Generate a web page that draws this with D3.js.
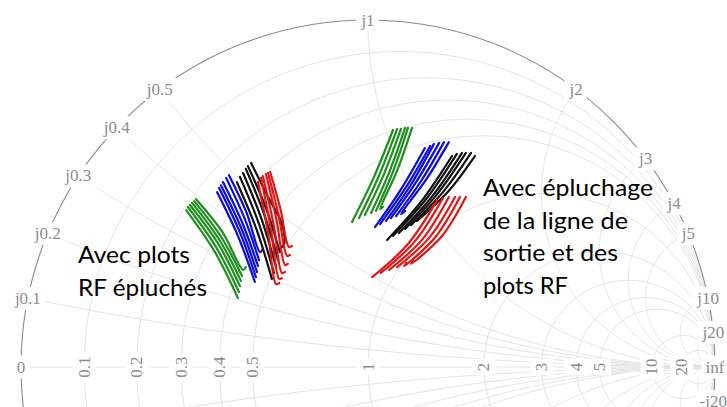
<!DOCTYPE html>
<html><head><meta charset="utf-8">
<script src="https://cdn.jsdelivr.net/npm/d3@7"></script>
<style>html,body{margin:0;padding:0;background:#fff;overflow:hidden}</style>
</head><body>
<svg id="chart" width="727" height="407"></svg>
<script>
// ---------- Data (reflection coefficient Γ = [re, im]) ----------
const realTicks = [0.1, 0.2, 0.3, 0.4, 0.5, 1, 2, 3, 4, 5, 10, 20];
const realTickLabels = ["0.1","0.2","0.3","0.4","0.5","1","2","3","4","5","10","20"];
const imagTicks = [0, 0.1, 0.2, 0.3, 0.4, 0.5, 1, 2, 3, 4, 5, 10, 20, Infinity, -20];
const imagTickLabels = ["0","j0.1","j0.2","j0.3","j0.4","j0.5","j1","j2","j3","j4","j5","j10","j20","inf","-j20"];
const gridReal = [0.1, 0.2, 0.3, 0.4, 0.5, 1, 2, 3, 4, 5, 10, 20];
const gridImag = [0.1, 0.2, 0.3, 0.4, 0.5, 1, 2, 3, 4, 5, 10, 20];

const leftGreen = [
 [[-0.524,0.452],[-0.441,0.331],[-0.375,0.199]],
 [[-0.519,0.461],[-0.437,0.344],[-0.372,0.216]],
 [[-0.513,0.467],[-0.432,0.356],[-0.369,0.233]],
 [[-0.507,0.473],[-0.428,0.366],[-0.366,0.248]],
 [[-0.501,0.478],[-0.424,0.376],[-0.363,0.262]],
 [[-0.496,0.484],[-0.419,0.388],[-0.360,0.280],[-0.352,0.288]]
];
const leftBlue = [
 [[-0.435,0.504],[-0.375,0.378],[-0.326,0.245]],
 [[-0.429,0.516],[-0.370,0.390],[-0.323,0.259]],
 [[-0.424,0.524],[-0.366,0.402],[-0.320,0.274]],
 [[-0.418,0.533],[-0.362,0.415],[-0.317,0.291]],
 [[-0.409,0.545],[-0.356,0.429],[-0.314,0.308]],
 [[-0.401,0.553],[-0.350,0.445],[-0.311,0.331],[-0.303,0.340]]
];
const leftBlack = [
 [[-0.378,0.533],[-0.321,0.396],[-0.277,0.254]],
 [[-0.369,0.548],[-0.314,0.412],[-0.271,0.271]],
 [[-0.360,0.559],[-0.307,0.427],[-0.265,0.288]],
 [[-0.352,0.571],[-0.300,0.442],[-0.259,0.308]],
 [[-0.346,0.579],[-0.294,0.458],[-0.254,0.331]],
 [[-0.337,0.588],[-0.288,0.490],[-0.248,0.412],[-0.242,0.354],[-0.251,0.343]]
];
const leftRed = [
 [[-0.317,0.533],[-0.288,0.386],[-0.265,0.239],[-0.256,0.242]],
 [[-0.308,0.545],[-0.280,0.399],[-0.256,0.254],[-0.248,0.256]],
 [[-0.303,0.550],[-0.272,0.411],[-0.248,0.271],[-0.239,0.274]],
 [[-0.294,0.556],[-0.264,0.425],[-0.239,0.294],[-0.231,0.297]],
 [[-0.288,0.559],[-0.258,0.439],[-0.233,0.320],[-0.225,0.323]],
 [[-0.282,0.562],[-0.252,0.454],[-0.228,0.346],[-0.219,0.349]]
];
const rightGreen = [
 [[-0.046,0.418],[0.016,0.545],[0.072,0.683]],
 [[-0.026,0.429],[0.032,0.552],[0.084,0.686]],
 [[-0.009,0.438],[0.046,0.556],[0.095,0.686]],
 [[0.009,0.444],[0.061,0.561],[0.107,0.689]],
 [[0.023,0.450],[0.072,0.563],[0.115,0.689]],
 [[0.043,0.461],[0.035,0.455],[0.084,0.566],[0.127,0.689]]
];
const rightBlue = [
 [[0.020,0.403],[0.095,0.512],[0.164,0.631]],
 [[0.035,0.412],[0.110,0.519],[0.179,0.637]],
 [[0.052,0.421],[0.124,0.526],[0.190,0.643]],
 [[0.066,0.429],[0.138,0.532],[0.205,0.646]],
 [[0.081,0.435],[0.153,0.536],[0.219,0.648]],
 [[0.107,0.450],[0.095,0.441],[0.167,0.539],[0.233,0.648]]
];
const rightBlack = [
 [[0.055,0.366],[0.154,0.478],[0.242,0.608]],
 [[0.072,0.378],[0.170,0.487],[0.256,0.614]],
 [[0.089,0.386],[0.186,0.493],[0.271,0.617]],
 [[0.107,0.398],[0.200,0.499],[0.282,0.617]],
 [[0.124,0.409],[0.216,0.504],[0.297,0.617]],
 [[0.141,0.421],[0.231,0.506],[0.308,0.608]]
];
const rightRed = [
 [[0.012,0.259],[0.114,0.353],[0.199,0.481]],
 [[0.037,0.271],[0.135,0.362],[0.216,0.487]],
 [[0.061,0.280],[0.156,0.367],[0.233,0.490]],
 [[0.084,0.288],[0.176,0.372],[0.251,0.490]],
 [[0.110,0.300],[0.104,0.291],[0.193,0.373],[0.265,0.490]],
 [[0.130,0.305],[0.124,0.297],[0.212,0.376],[0.282,0.490]]
];
const seriesColors = ["#1e8f1e", "#0a0ae6", "#111111", "#e31515"];
const annotLeft = ["Avec plots", "RF épluchés"];
const annotRight = ["Avec épluchage", "de la ligne de", "sortie et des", "plots RF"];

// ---------- Layout ----------
const W = 727, H = 407, CX = 368, CY = 367, R = 347;
const svg = d3.select("#chart");
svg.append("rect").attr("width", W).attr("height", H).attr("fill", "#fff");

const x = d3.scaleLinear().domain([-1, 1]).range([CX - R, CX + R]);
const y = d3.scaleLinear().domain([-1, 1]).range([CY + R, CY - R]);
const rad = v => x(v) - x(0);

svg.append("defs").append("clipPath").attr("id", "clipU")
  .append("circle").attr("cx", x(0)).attr("cy", y(0)).attr("r", rad(1));

const grid = svg.append("g").attr("clip-path", "url(#clipU)")
  .attr("fill", "none").attr("stroke", "#e4e4e4").attr("stroke-width", 1);

// resistance circles
grid.selectAll("circle.r").data(gridReal).join("circle")
  .attr("cx", r => x(r / (1 + r))).attr("cy", y(0)).attr("r", r => rad(1 / (1 + r)));
// real axis
grid.append("line").attr("x1", x(-1)).attr("x2", x(1)).attr("y1", y(0)).attr("y2", y(0));
// reactance arcs
const arcLine = d3.line().x(d => x(d[0])).y(d => y(d[1]));
function reactArc(xv) {
  const s = Math.sign(xv), a = Math.abs(xv);
  const c = 1 / a;
  const ex = -2 / (a * a + 1), ey = (a * a - 1) / (a * (a * a + 1));
  let phiEnd = Math.atan2(ey, ex);
  if (phiEnd > 0) phiEnd -= 2 * Math.PI;
  const pts = d3.range(0, 201).map(i => {
    const p = -Math.PI / 2 + (phiEnd + Math.PI / 2) * i / 200;
    return [1 + c * Math.cos(p), s * (c + c * Math.sin(p))];
  });
  return arcLine(pts);
}
gridImag.forEach(v => {
  grid.append("path").attr("d", reactArc(v));
  grid.append("path").attr("d", reactArc(-v));
});

// outer circle
svg.append("circle").attr("cx", x(0)).attr("cy", y(0)).attr("r", rad(1))
  .attr("fill", "none").attr("stroke", "#8a8a8a").attr("stroke-width", 1.1);

// ---------- tick labels ----------
const labG = svg.append("g").attr("font-family", "'Liberation Serif', 'Times New Roman', serif")
  .attr("font-size", 17).attr("fill", "#8c8c8c");

function addLabel(px, py, txt, rot) {
  const g = labG.append("g").attr("transform", `translate(${px},${py}) rotate(${rot})`);
  const bg = g.append("rect").attr("fill", "#fff");
  const t = g.append("text").attr("text-anchor", "middle").attr("dominant-baseline", "central").text(txt);
  const b = t.node().getBBox();
  bg.attr("x", b.x - 4).attr("y", b.y - 2).attr("width", b.width + 8).attr("height", b.height + 4);
}
imagTicks.forEach((v, i) => {
  let gx, gy;
  if (v === Infinity) { gx = 1; gy = 0; }
  else { gx = (v * v - 1) / (v * v + 1); gy = 2 * v / (v * v + 1); }
  addLabel(x(gx), y(gy), imagTickLabels[i], 0);
});
realTicks.forEach((v, i) => {
  addLabel(x((v - 1) / (v + 1)), y(0), realTickLabels[i], -90);
});

// ---------- traces ----------
const traceLine = d3.line().x(d => x(d[0])).y(d => y(d[1])).curve(d3.curveCatmullRom.alpha(0.5));
const groups = [
  [leftGreen, seriesColors[0]], [leftBlue, seriesColors[1]], [leftBlack, seriesColors[2]], [leftRed, seriesColors[3]],
  [rightGreen, seriesColors[0]], [rightBlue, seriesColors[1]], [rightBlack, seriesColors[2]], [rightRed, seriesColors[3]]
];
const tg = svg.append("g").attr("fill", "none").attr("stroke-width", 2.2)
  .attr("stroke-linecap", "round").attr("stroke-linejoin", "round");
groups.forEach(([lines, col]) => {
  tg.selectAll(null).data(lines).join("path").attr("d", traceLine).attr("stroke", col);
});

// ---------- annotations ----------
const an = svg.append("g").attr("font-family", "Lato, 'Noto Sans', sans-serif").attr("font-size", 24).attr("fill", "#000");
const leftW = [112, 129];
const rightW = [170, 145, 135, 85];
annotLeft.forEach((t, i) => an.append("text").attr("x", 78).attr("y", 263 + i * 32.5)
  .attr("textLength", leftW[i]).attr("lengthAdjust", "spacingAndGlyphs").text(t));
annotRight.forEach((t, i) => an.append("text").attr("x", 483).attr("y", 196 + i * 32.5)
  .attr("textLength", rightW[i]).attr("lengthAdjust", "spacingAndGlyphs").text(t));
</script>
</body></html>
